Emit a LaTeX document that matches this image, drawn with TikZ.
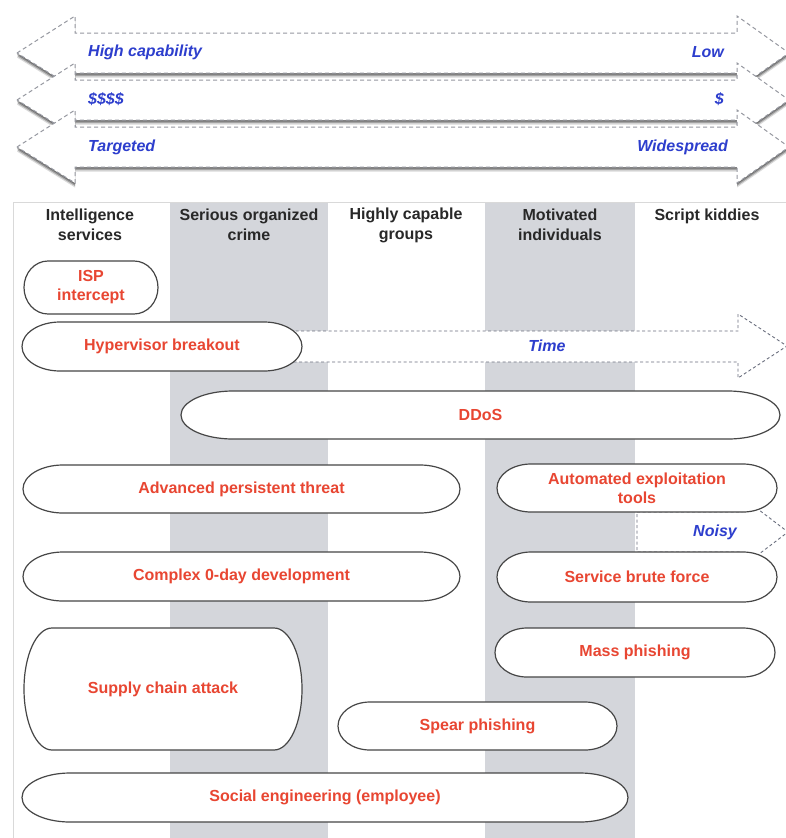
\documentclass[tikz,border=0pt]{standalone}
\usepackage{fontspec}
\setmainfont{Liberation Sans}
\definecolor{lblue}{RGB}{45,62,205}
\definecolor{lred}{RGB}{232,70,50}
\definecolor{band}{RGB}{212,214,219}
\definecolor{hdr}{RGB}{40,40,40}
\definecolor{edgec}{RGB}{70,70,70}
\definecolor{dashc}{RGB}{150,152,160}
\definecolor{dashd}{RGB}{105,110,125}
\tikzset{
  blobline/.style={draw=edgec, line width=1.2pt, fill=white},
  blobtext/.style={text=lred, font=\bfseries\fontsize{16}{19}\selectfont, align=center, inner sep=0pt},
  hdrtext/.style={text=hdr, font=\bfseries\fontsize{16}{20}\selectfont, align=center, inner sep=0pt},
  bluelab/.style={text=lblue, font=\bfseries\itshape\fontsize{16}{19}\selectfont, inner sep=0pt},
  bigarr/.style={draw=dashc, fill=white, line width=1pt, dash pattern=on 4pt off 3pt},
  thinarr/.style={draw=dashd, fill=white, line width=0.9pt, dash pattern=on 3pt off 2.5pt},
}
\newcommand\mkblob[7]{%
  \draw[blobline] ({#2+#6},{-#3}) -- ({#4-#6},{-#3})
    arc[start angle=90,end angle=-90,x radius=#6,y radius={(#5-#3)/2}]
    -- ({#2+#6},{-#5})
    arc[start angle=270,end angle=90,x radius=#6,y radius={(#5-#3)/2}] -- cycle;
  \node[blobtext] (#1) at ({(#2+#4)/2},{-(#3+#5)/2}) {#7};}
\newcommand\mkbigarrow[2]{%
  \coordinate (#1) at (400,{-#2});
  \foreach \s/\o in {1.5/0.3,3/0.25,4.5/0.15}{
  \fill[fill=black, opacity=\o, yshift=-\s pt] (17,{-#2}) -- (75,{-#2+37}) -- (75,{-#2+20}) -- (737,{-#2+20}) -- (737,{-#2+37}) -- (789,{-#2})
     -- (737,{-#2-36}) -- (737,{-#2-20}) -- (75,{-#2-20}) -- (75,{-#2-36}) -- cycle;}
  \draw[bigarr] (17,{-#2}) -- (75,{-#2+37}) -- (75,{-#2+20}) -- (737,{-#2+20}) -- (737,{-#2+37}) -- (789,{-#2})
     -- (737,{-#2-36}) -- (737,{-#2-20}) -- (75,{-#2-20}) -- (75,{-#2-36}) -- cycle;}
\begin{document}
\begin{tikzpicture}[x=1pt,y=1pt]
\useasboundingbox (0,0) rectangle (786,-838);
\fill[white] (0,0) rectangle (786,-838);
% top scale arrows
\mkbigarrow{capab}{53}
\node[bluelab, anchor=west] (hicap) at (88,-52) {High capability};
\node[bluelab, anchor=east] (locap) at (724,-52) {Low};
\mkbigarrow{cost}{100}
\node[bluelab, anchor=west] (hicost) at (88,-99) {\$\$\$\$};
\node[bluelab, anchor=east] (locost) at (724,-99) {\$};
\mkbigarrow{scope}{147}
\node[bluelab, anchor=west] (targ) at (88,-147) {Targeted};
\node[bluelab, anchor=east] (wide) at (728,-147) {Widespread};
% panel and columns
\draw[fill=white, draw=black!15, line width=0.8pt] (13,-202) rectangle (792,-845);
\fill[band] (170,-202.5) rectangle (328,-840);
\fill[band] (485,-202.5) rectangle (635,-840);
\node[hdrtext] (h1) at (90,-225) {Intelligence\\services};
\node[hdrtext] (h2) at (249,-225) {Serious organized\\crime};
\node[hdrtext] (h3) at (406,-225) {Highly capable\\groups};
\node[hdrtext] (h4) at (560,-225) {Motivated\\individuals};
\node[hdrtext, anchor=north] (h5) at (707,-209) {Script kiddies};
% time arrow
\draw[thinarr] (290,-331) -- (738,-331) -- (738,-314) -- (787,-346) -- (738,-378) -- (738,-362) -- (290,-362) -- cycle;
\node[bluelab] (time) at (547,-346) {Time};
% noisy arrow
\draw[thinarr] (637,-512) -- (742,-512) -- (742,-497) -- (788,-532) -- (742,-567) -- (742,-552) -- (637,-552) -- cycle;
\node[bluelab, anchor=east] (noisy) at (737,-532) {Noisy};
% attack nodes
\mkblob{isp}{24}{261}{158}{314}{24}{ISP\\intercept}
\mkblob{hyp}{22}{322}{302}{371}{38}{Hypervisor breakout}
\mkblob{ddos}{181}{391}{780}{439}{52}{DDoS}
\mkblob{apt}{23}{465}{460}{513}{40}{Advanced persistent threat}
\mkblob{auto}{497}{464}{777}{512}{34}{Automated exploitation\\tools}
\mkblob{zday}{23}{552}{460}{601}{40}{Complex 0-day development}
\mkblob{brute}{497}{552}{777}{602}{34}{Service brute force}
\mkblob{mass}{495}{628}{775}{677}{32}{Mass phishing}
\mkblob{supply}{24}{628}{302}{750}{28}{Supply chain attack}
\mkblob{spear}{338}{702}{617}{750}{32}{Spear phishing}
\mkblob{social}{22}{773}{628}{822}{48}{Social engineering (employee)}
\end{tikzpicture}
\end{document}
